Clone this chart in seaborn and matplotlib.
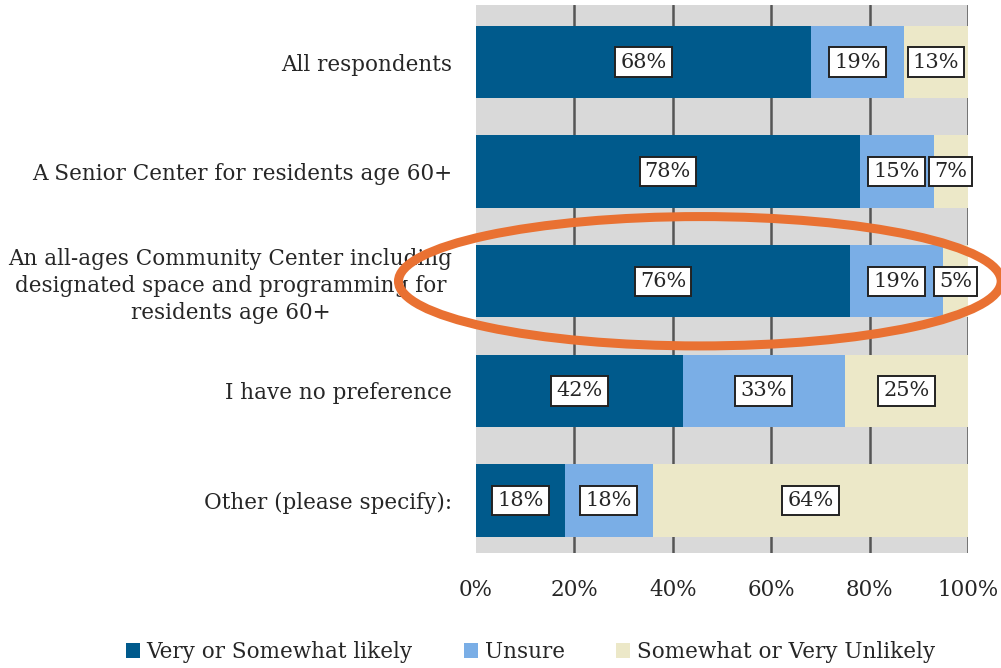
import numpy as np
import pandas as pd
import matplotlib.pyplot as plt
import seaborn as sns
from matplotlib.patches import Ellipse, Patch

categories = ['All respondents',
              'A Senior Center for residents age 60+',
              'An all-ages Community Center including\ndesignated space and programming for\nresidents age 60+',
              'I have no preference',
              'Other (please specify):']
likely = [68, 78, 76, 42, 18]
unsure = [19, 15, 19, 33, 18]
unlikely = [13, 7, 5, 25, 64]
series_names = ['Very or Somewhat likely', 'Unsure', 'Somewhat or Very Unlikely']
colors = ['#005a8c', '#7aaee6', '#ece8c8']

sns.set_style('white')
plt.rcParams['font.family'] = ['DejaVu Serif']
txt = '#262626'

df = pd.DataFrame({'cat': categories, 'likely': likely, 'unsure': unsure, 'unlikely': unlikely})
df['c1'] = df['likely']
df['c2'] = df['likely'] + df['unsure']
df['c3'] = df['c2'] + df['unlikely']

fig = plt.figure(figsize=(10.01, 6.68), dpi=100)
ax = fig.add_axes([0.4755, 0.172, 0.4915, 0.8205])
ax.set_facecolor('#d9d9d9')
ax.set_axisbelow(True)
ax.grid(axis='x', color='#555555', linewidth=1.8)
ax.grid(axis='y', visible=False)

# stacked: draw cumulative totals largest first
for col, c in zip(['c3', 'c2', 'c1'], colors[::-1]):
    sns.barplot(data=df, x=col, y='cat', orient='h', color=c, width=0.66,
                saturation=1, ax=ax, edgecolor='none')

box = dict(boxstyle='square,pad=0.25', facecolor='white', edgecolor='#222222', linewidth=1.4)
for i, row in df.iterrows():
    starts = [0, row['c1'], row['c2']]
    vals = [row['likely'], row['unsure'], row['unlikely']]
    for s, v in zip(starts, vals):
        ax.text(s + v / 2, i, f'{v}%', ha='center', va='center', fontsize=15,
                color=txt, bbox=box)

ax.set_xlim(0, 100)
ax.set_ylim(4.48, -0.52)
ax.set_xticks(np.arange(0, 101, 20))
ax.set_xticklabels([f'{t}%' for t in range(0, 101, 20)], fontsize=15.5, color=txt)
ax.get_xgridlines()[0].set_visible(False)
ax.tick_params(axis='x', length=0, pad=19)
ax.tick_params(axis='y', length=0, pad=17, labelsize=15.5, labelcolor=txt)
for lab in ax.get_yticklabels():
    lab.set_multialignment('center')
    lab.set_linespacing(1.3)
ax.set_xlabel('')
ax.set_ylabel('')
for sp in ax.spines.values():
    sp.set_visible(False)

# highlight ellipse
ell = Ellipse((45.5, 2.0), width=122.5, height=1.18, fill=False, edgecolor='#e97132',
              linewidth=6.5, clip_on=False, zorder=10)
ax.add_patch(ell)

handles = [Patch(facecolor=c, edgecolor='none') for c in colors]
fig.legend(handles, series_names, loc='center', bbox_to_anchor=(0.53, 0.024), ncol=3,
           frameon=False, fontsize=15.5, handlelength=0.65, handleheight=0.65,
           handletextpad=0.3, columnspacing=2.4, labelcolor=txt)

fig.savefig('out.png', dpi=100)
